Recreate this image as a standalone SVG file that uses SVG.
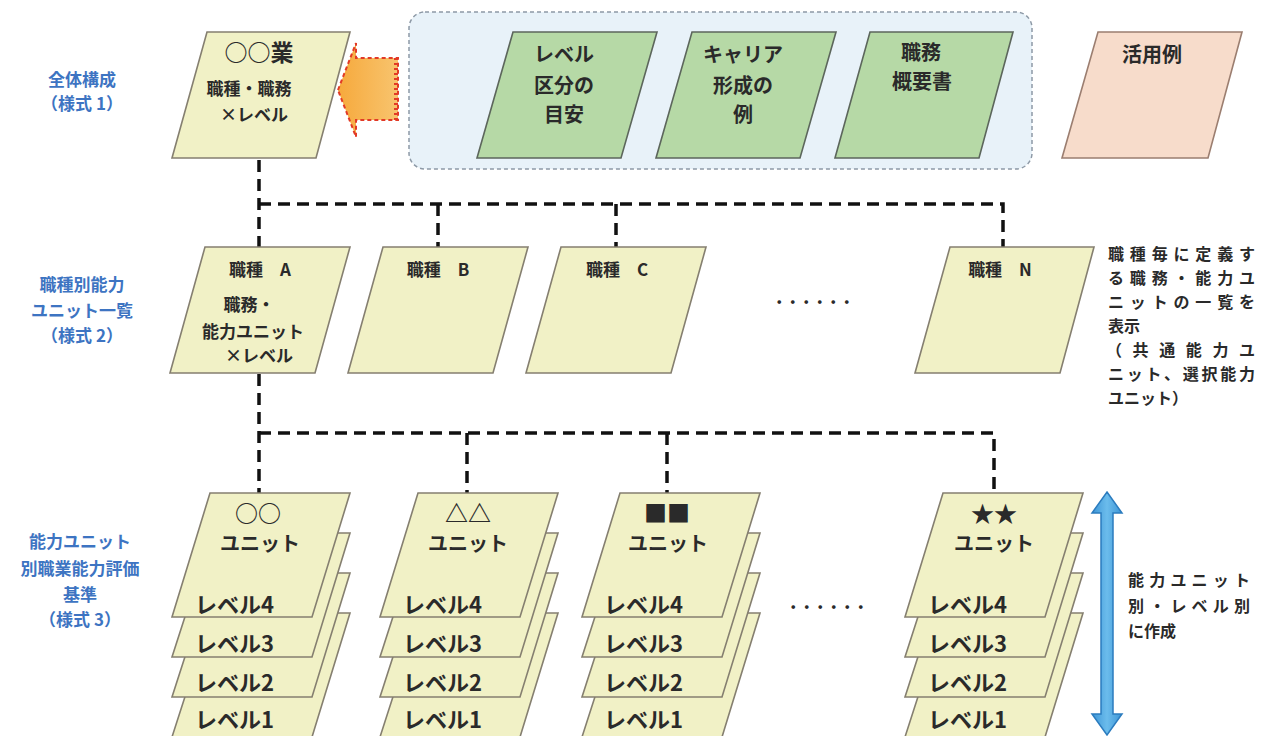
<svg xmlns="http://www.w3.org/2000/svg" width="1264" height="736" viewBox="0 0 1264 736">
<defs>
<linearGradient id="og" x1="0" y1="0" x2="1" y2="0">
<stop offset="0" stop-color="#f6a93c"/>
<stop offset="1" stop-color="#f8c46e"/>
</linearGradient>
<linearGradient id="ba" x1="0" y1="0" x2="1" y2="0">
<stop offset="0" stop-color="#3d95d6"/>
<stop offset="0.5" stop-color="#6bbcec"/>
<stop offset="1" stop-color="#3d95d6"/>
</linearGradient>
<style>
text{font-family:"Noto Sans CJK JP","Noto Sans CJK SC",sans-serif;fill:#2a2a2a}
.lab{fill:#3d74c2;font-size:17px;font-weight:700;text-anchor:middle}
.yel{fill:#f1f1c6;stroke:#857f70;stroke-width:1.6}
.grn{fill:#b6d9a6;stroke:#5c665c;stroke-width:1.6}
.pch{fill:#f7dccb;stroke:#9b7e70;stroke-width:1.6}
.t{font-size:17px;font-weight:700;text-anchor:middle}
.tb{font-size:20px;font-weight:700;text-anchor:middle}
.sym{font-size:23px;font-weight:700;text-anchor:middle}
.lv{font-size:22px;font-weight:700}
.note{font-size:16px;font-weight:700}
.dots{font-size:20px;font-weight:700;letter-spacing:7px}
.con{fill:none;stroke:#111;stroke-width:3.5;stroke-dasharray:12 7}
</style>
</defs>
<rect width="1264" height="736" fill="#ffffff"/>

<g id="labels">
<text class="lab" x="82" y="86">全体構成</text>
<text class="lab" x="82" y="110">（様式 1）</text>
<text class="lab" x="82" y="291">職種別能力</text>
<text class="lab" x="82" y="317">ユニット一覧</text>
<text class="lab" x="82" y="342">（様式 2）</text>
<text class="lab" x="80" y="548">能力ユニット</text>
<text class="lab" x="80" y="575">別職業能力評価</text>
<text class="lab" x="80" y="601">基準</text>
<text class="lab" x="80" y="626">（様式 3）</text>
</g>

<g id="connectors">
<path class="con" d="M259 160 V247"/>
<path class="con" d="M259 204 H1003 V247"/>
<path class="con" d="M438 204 V247"/>
<path class="con" d="M616 204 V247"/>
<path class="con" d="M259 374 V493"/>
<path class="con" d="M259 433 H994 V493"/>
<path class="con" d="M467 433 V493"/>
<path class="con" d="M667 433 V493"/>
</g>

<g id="tools-group">
<rect x="409" y="12" width="623" height="157" rx="16" fill="#e8f2f9" stroke="#8d99a6" stroke-width="1.5" stroke-dasharray="4 3"/>
</g>

<g id="arrow-orange">
<polygon points="338,90 356,43 356,58 398,58 398,120 356,120 356,137" fill="url(#og)" stroke="#e23a26" stroke-width="2" stroke-dasharray="4 3"/>
<line x1="396" y1="58" x2="396" y2="120" stroke="#e23a26" stroke-width="4" stroke-dasharray="2 3"/>
</g>

<g id="node-industry">
<polygon class="yel" points="207,32 350,32 316,158 172,158"/>
<text class="sym" x="259" y="61">○○業</text>
<text class="t" x="249" y="95">職種・職務</text>
<text class="t" x="254" y="121">×レベル</text>
</g>

<g id="node-level-guide">
<polygon class="grn" points="513,32 657,32 621,158 477,158"/>
<text class="tb" x="564" y="62">レベル</text>
<text class="tb" x="564" y="93">区分の</text>
<text class="tb" x="564" y="122">目安</text>
</g>
<g id="node-career">
<polygon class="grn" points="692,32 836,32 800,158 656,158"/>
<text class="tb" x="743" y="62">キャリア</text>
<text class="tb" x="743" y="93">形成の</text>
<text class="tb" x="743" y="122">例</text>
</g>
<g id="node-job-summary">
<polygon class="grn" points="870,32 1013,32 979,158 835,158"/>
<text class="tb" x="921" y="60">職務</text>
<text class="tb" x="922" y="89">概要書</text>
</g>
<g id="node-usage">
<polygon class="pch" points="1098,32 1242,32 1208,158 1062,158"/>
<text class="tb" x="1152" y="62">活用例</text>
</g>

<g id="node-job-A">
<polygon class="yel" points="205,247 350,247 315,373 170,373"/>
<text class="t" x="260" y="276">職種　A</text>
<text class="t" x="249" y="311">職務・</text>
<text class="t" x="253" y="338">能力ユニット</text>
<text class="t" x="259" y="362">×レベル</text>
</g>
<g id="node-job-B">
<polygon class="yel" points="383,247 528,247 493,373 348,373"/>
<text class="t" x="438" y="276">職種　B</text>
</g>
<g id="node-job-C">
<polygon class="yel" points="561,247 706,247 671,373 526,373"/>
<text class="t" x="617" y="276">職種　C</text>
</g>
<text class="dots" x="776" y="304">......</text>
<g id="node-job-N">
<polygon class="yel" points="950,247 1094,247 1060,373 915,373"/>
<text class="t" x="1000" y="276">職種　N</text>
</g>
<g id="note-row2">
<text class="note" x="1108" y="260" textLength="147">職種毎に定義す</text>
<text class="note" x="1108" y="284" textLength="147">る職務・能力ユ</text>
<text class="note" x="1108" y="308" textLength="147">ニットの一覧を</text>
<text class="note" x="1108" y="332">表示</text>
<text class="note" x="1106" y="356" textLength="149">（共通能力ユ</text>
<text class="note" x="1108" y="380" textLength="147">ニット、選択能力</text>
<text class="note" x="1108" y="404">ユニット）</text>
</g>

<g id="unit-circle">
<polygon class="yel" points="212,613 350,613 312,737 172,737"/>
<polygon class="yel" points="212,573 350,573 312,697 172,697"/>
<polygon class="yel" points="212,533 350,533 312,657 172,657"/>
<polygon class="yel" points="210,493 350,493 312,617 172,617"/>
<text class="sym" x="258" y="522">○○</text>
<text class="tb" x="260" y="551">ユニット</text>
<text class="lv" x="195" y="613">レベル4</text>
<text class="lv" x="195" y="652">レベル3</text>
<text class="lv" x="195" y="691">レベル2</text>
<text class="lv" x="195" y="728">レベル1</text>
</g>
<g id="unit-triangle">
<polygon class="yel" points="420,613 558,613 520,737 380,737"/>
<polygon class="yel" points="420,573 558,573 520,697 380,697"/>
<polygon class="yel" points="420,533 558,533 520,657 380,657"/>
<polygon class="yel" points="418,493 558,493 520,617 380,617"/>
<text class="sym" x="468" y="522">△△</text>
<text class="tb" x="468" y="551">ユニット</text>
<text class="lv" x="403" y="613">レベル4</text>
<text class="lv" x="403" y="652">レベル3</text>
<text class="lv" x="403" y="691">レベル2</text>
<text class="lv" x="403" y="728">レベル1</text>
</g>
<g id="unit-square">
<polygon class="yel" points="622,613 760,613 722,737 582,737"/>
<polygon class="yel" points="622,573 760,573 722,697 582,697"/>
<polygon class="yel" points="622,533 760,533 722,657 582,657"/>
<polygon class="yel" points="620,493 760,493 722,617 582,617"/>
<text class="sym" x="667" y="522">■■</text>
<text class="tb" x="668" y="551">ユニット</text>
<text class="lv" x="604" y="613">レベル4</text>
<text class="lv" x="604" y="652">レベル3</text>
<text class="lv" x="604" y="691">レベル2</text>
<text class="lv" x="604" y="728">レベル1</text>
</g>
<text class="dots" x="790" y="609">......</text>
<g id="unit-star">
<polygon class="yel" points="945,613 1083,613 1045,737 905,737"/>
<polygon class="yel" points="945,573 1083,573 1045,697 905,697"/>
<polygon class="yel" points="945,533 1083,533 1045,657 905,657"/>
<polygon class="yel" points="943,493 1083,493 1045,617 905,617"/>
<text class="sym" x="994" y="522">★★</text>
<text class="tb" x="994" y="551">ユニット</text>
<text class="lv" x="928" y="613">レベル4</text>
<text class="lv" x="928" y="652">レベル3</text>
<text class="lv" x="928" y="691">レベル2</text>
<text class="lv" x="928" y="728">レベル1</text>
</g>

<g id="arrow-blue">
<polygon points="1107,492 1122,513 1113,513 1113,714 1122,714 1107,735 1092,714 1101,714 1101,513 1092,513" fill="url(#ba)" stroke="#2b7cbf" stroke-width="1.5"/>
</g>
<g id="note-row3">
<text class="note" x="1128" y="586" textLength="122">能力ユニット</text>
<text class="note" x="1128" y="612" textLength="122">別・レベル別</text>
<text class="note" x="1128" y="637">に作成</text>
</g>
</svg>
